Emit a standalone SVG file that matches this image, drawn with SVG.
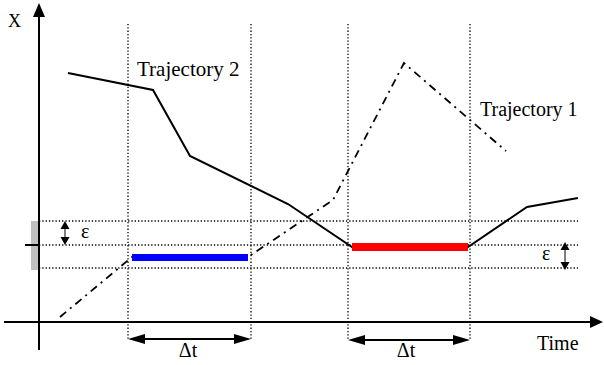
<svg xmlns="http://www.w3.org/2000/svg" width="604" height="365" viewBox="0 0 604 365">
<style>
.t{font-family:'Liberation Serif','Times New Roman','DejaVu Serif',serif;fill:#000}
.dot{stroke:#000;stroke-width:1.3;stroke-dasharray:1.3 2;fill:none}
.solid{stroke:#000;stroke-width:2;fill:none;stroke-linejoin:miter}
.dashdot{stroke:#000;stroke-width:1.8;fill:none;stroke-dasharray:8 5 2 5}
.axis{stroke:#000;stroke-width:2;fill:none}
.thin{stroke:#000;stroke-width:1;fill:none}
</style>
<rect width="604" height="365" fill="#fff"/>
<g id="grid">
<line class="dot" x1="128" y1="24" x2="128" y2="339"/>
<line class="dot" x1="251" y1="24" x2="251" y2="339"/>
<line class="dot" x1="348" y1="24" x2="348" y2="340"/>
<line class="dot" x1="470" y1="24" x2="470" y2="340"/>
<line class="dot" x1="39" y1="221" x2="578" y2="221"/>
<line class="dot" x1="39" y1="245" x2="578" y2="245"/>
<line class="dot" x1="39" y1="268" x2="578" y2="268"/>
</g>
<g id="tolerance-band">
<rect x="31" y="221" width="8" height="49" fill="#c0c0c0"/>
<line class="axis" x1="25" y1="245" x2="39" y2="245"/>
</g>
<g id="axes">
<line class="axis" x1="39" y1="16" x2="39" y2="350"/>
<polygon points="39,3 33,17 45,17" fill="#000"/>
<line class="axis" x1="4" y1="322" x2="591" y2="322"/>
<polygon points="603,322 590,316 590,328" fill="#000"/>
<text class="t" font-family="Liberation Serif, serif" x="8" y="27" font-size="18">X</text>
<text class="t" font-family="Liberation Serif, serif" x="537" y="350" font-size="20">Time</text>
</g>
<g id="trajectory-1">
<polyline class="dashdot" points="60,317 132,257 248,257 333,200 404,63 506,151"/>
<rect x="132" y="254" width="116" height="7" fill="#0000ff"/>
<text class="t" font-family="Liberation Serif, serif" x="480" y="116" font-size="20">Trajectory 1</text>
</g>
<g id="trajectory-2">
<polyline class="solid" points="68,73 153,90 190,156 288,204 352,247 468,247 527,207 578,198"/>
<rect x="352" y="243" width="116" height="8" fill="#ff0000"/>
<text class="t" font-family="Liberation Serif, serif" x="137" y="76" font-size="21">Trajectory 2</text>
</g>
<g id="connectors">
<line class="axis" x1="140" y1="339" x2="239" y2="339"/>
<polygon points="128,339 145,334 145,344" fill="#000"/>
<polygon points="251,339 234,334 234,344" fill="#000"/>
<line class="axis" x1="360" y1="340" x2="458" y2="340"/>
<polygon points="348,340 365,335 365,345" fill="#000"/>
<polygon points="470,340 453,335 453,345" fill="#000"/>
<line class="thin" x1="65" y1="226" x2="65" y2="240"/>
<polygon points="65,221 60.5,229 69.5,229" fill="#000"/>
<polygon points="65,245 60.5,237 69.5,237" fill="#000"/>
<line class="thin" x1="565" y1="247" x2="565" y2="265"/>
<polygon points="565,242 560.5,250 569.5,250" fill="#000"/>
<polygon points="565,270 560.5,262 569.5,262" fill="#000"/>
</g>
<g id="labels">
<text class="t" font-family="Liberation Serif, serif" x="81" y="238" font-size="20">ε</text>
<text class="t" font-family="Liberation Serif, serif" x="542" y="260" font-size="20">ε</text>
<text class="t" font-family="Liberation Serif, serif" x="188" y="357" font-size="20" text-anchor="middle">Δt</text>
<text class="t" font-family="Liberation Serif, serif" x="406" y="357" font-size="20" text-anchor="middle">Δt</text>
</g>
</svg>
